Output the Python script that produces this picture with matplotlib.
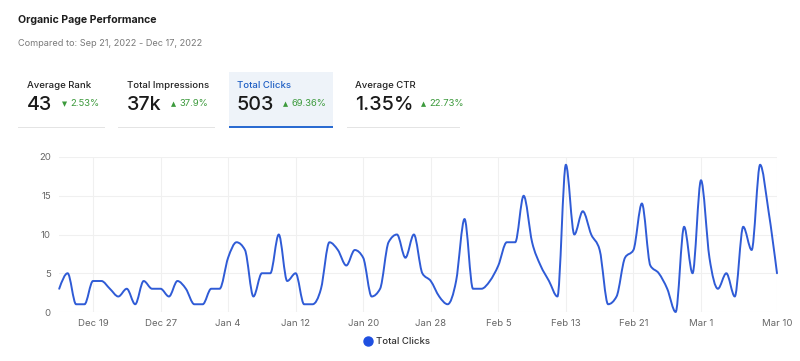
import numpy as np
import pandas as pd
import matplotlib
matplotlib.use("Agg")
import matplotlib.pyplot as plt
import matplotlib.dates as mdates
from matplotlib.path import Path
from matplotlib.patches import PathPatch, Rectangle
from matplotlib.lines import Line2D

plt.rcParams['font.family'] = ['Inter', 'DejaVu Sans']

# daily clicks, Dec 15 2022 .. Mar 10 2023
clicks = [3, 5, 1, 1, 4, 4, 3, 2, 3, 1, 4, 3, 3, 2, 4, 3, 1, 1, 3, 3,
          7, 9, 8, 2, 5, 5, 10, 4, 5, 1, 1, 3, 9, 8, 6, 8, 7, 2, 3, 9,
          10, 7, 10, 5, 4, 2, 1, 4, 12, 3, 3, 4, 6, 9, 9, 15, 9, 6, 4, 2,
          19, 10, 13, 10, 8, 1, 2, 7, 8, 14, 6, 5, 3, 0, 11, 5, 17, 7, 3, 5,
          2, 11, 8, 19, 13, 5]
start_date = "2022-12-15"
tick_dates = ["2022-12-19", "2022-12-27", "2023-01-04", "2023-01-12", "2023-01-20",
              "2023-01-28", "2023-02-05", "2023-02-13", "2023-02-21", "2023-03-01", "2023-03-10"]
tick_labels = ["Dec 19", "Dec 27", "Jan 4", "Jan 12", "Jan 20", "Jan 28",
               "Feb 5", "Feb 13", "Feb 21", "Mar 1", "Mar 10"]
y_ticks = [0, 5, 10, 15, 20]

card_names = ["Average Rank", "Total Impressions", "Total Clicks", "Average CTR"]
card_values = ["43", "37k", "503", "1.35%"]
card_deltas = ["2.53%", "37.9%", "69.36%", "22.73%"]
card_arrows = ["\u25bc", "\u25b2", "\u25b2", "\u25b2"]

line_color = '#2f5bd6'
green = '#3c9a3c'

W, H = 800, 361
fig = plt.figure(figsize=(W / 100, H / 100), dpi=100)


def fx(px):
    return px / W


def fy(py):
    return 1 - py / H


# header
fig.text(fx(18), fy(20), "Organic Page Performance", fontsize=7.6, fontweight='bold',
         color='#1e1e1e', va='center')
fig.text(fx(18), fy(43), "Compared to: Sep 21, 2022 - Dec 17, 2022", fontsize=6.6,
         color='#7a7a7a', va='center')

# cards
card_x = [27, 127, 237, 355]
delta_x = [62, 171, 283, 421]
line_spans = [(18, 105), (118, 215), (229, 333), (347, 460)]
for i, name in enumerate(card_names):
    active = i == 2
    x0, x1 = line_spans[i]
    if active:
        fig.patches.append(Rectangle((fx(x0), fy(128)), fx(x1 - x0), (128 - 72) / H,
                                     transform=fig.transFigure, facecolor='#eef3f9',
                                     linewidth=0, zorder=0))
        fig.patches.append(Rectangle((fx(x0), fy(128)), fx(x1 - x0), 2 / H,
                                     transform=fig.transFigure, facecolor='#2a6bd1',
                                     linewidth=0, zorder=1))
    else:
        fig.patches.append(Rectangle((fx(x0), fy(128)), fx(x1 - x0), 1 / H,
                                     transform=fig.transFigure, facecolor='#e4e4e4',
                                     linewidth=0, zorder=1))
    fig.text(fx(card_x[i]), fy(86), name, fontsize=6.9, fontweight='medium',
             color='#1f5fc4' if active else '#222222', va='center')
    fig.text(fx(card_x[i]), fy(105), card_values[i], fontsize=14.2, fontweight='medium',
             color='#1a1a1a', va='center')
    fig.text(fx(delta_x[i]), fy(104), card_arrows[i], fontsize=4.8, color=green,
             va='center', family=['DejaVu Sans'])
    fig.text(fx(delta_x[i] + 8), fy(104), card_deltas[i], fontsize=6.8, color=green,
             va='center')

# chart
ax = fig.add_axes([fx(59.2), fy(312), fx(777 - 59.2), (312 - 157) / H])
dates = pd.date_range(start_date, periods=len(clicks), freq='D')
xs = mdates.date2num(dates)
ys = np.array(clicks, dtype=float)

# monotone cubic (d3 monotoneX style) drawn as bezier segments
h = np.diff(xs)
s = np.diff(ys) / h
t = np.zeros_like(ys)
for k in range(1, len(ys) - 1):
    p = (s[k - 1] * h[k] + s[k] * h[k - 1]) / (h[k - 1] + h[k])
    t[k] = (np.sign(s[k - 1]) + np.sign(s[k])) * min(abs(s[k - 1]), abs(s[k]), 0.5 * abs(p))
t[0] = (3 * s[0] - t[1]) / 2
t[-1] = (3 * s[-1] - t[-2]) / 2
verts = [(xs[0], ys[0])]
codes = [Path.MOVETO]
for k in range(len(ys) - 1):
    d = h[k] / 3
    verts += [(xs[k] + d, ys[k] + d * t[k]), (xs[k + 1] - d, ys[k + 1] - d * t[k + 1]),
              (xs[k + 1], ys[k + 1])]
    codes += [Path.CURVE4] * 3
ax.add_patch(PathPatch(Path(verts, codes), facecolor='none', edgecolor=line_color,
                       linewidth=1.4, clip_on=False, zorder=3, capstyle='round',
                       joinstyle='round'))

ax.set_xlim(xs[0], xs[-1])
ax.set_ylim(0, 20)
ax.set_xticks(mdates.date2num(pd.to_datetime(tick_dates)))
ax.set_xticklabels(tick_labels)
ax.set_yticks(y_ticks)
ax.tick_params(axis='both', length=0, labelsize=6.9, labelcolor='#666666')
ax.tick_params(axis='x', pad=5)
ax.tick_params(axis='y', pad=6)
ax.grid(True, color='#f0f0f0', linewidth=0.8)
ax.set_axisbelow(True)
for sp in ax.spines.values():
    sp.set_visible(False)

# legend
fig.add_artist(Line2D([fx(368)], [fy(341)], marker='o', markersize=6.5,
                      color='#1f4fe0', linestyle='none', transform=fig.transFigure))
fig.text(fx(376), fy(341), "Total Clicks", fontsize=6.9, fontweight='medium',
         color='#333333', va='center')

fig.savefig("out.png", dpi=100)
